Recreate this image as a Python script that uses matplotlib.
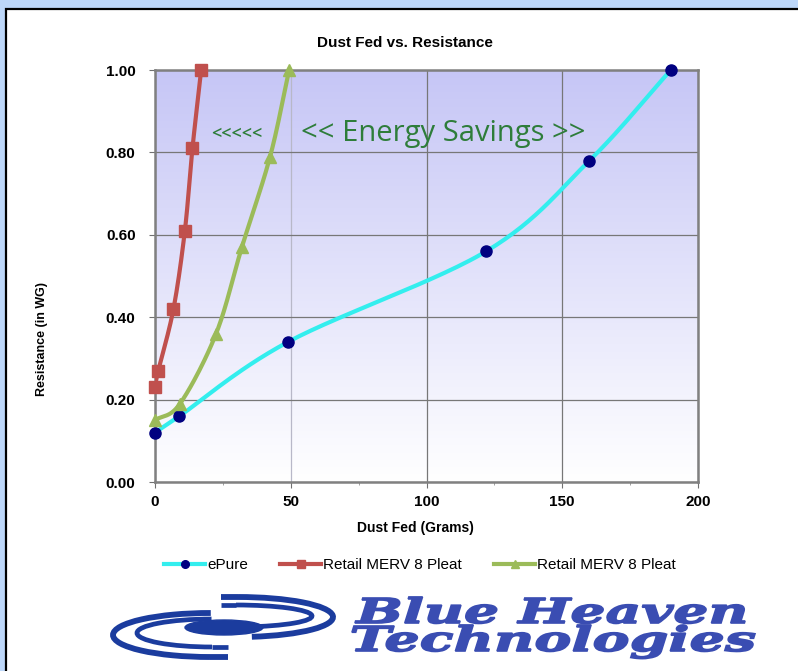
import numpy as np
import matplotlib
matplotlib.use("Agg")
import matplotlib.pyplot as plt
from matplotlib.patches import Rectangle, Ellipse, Arc, PathPatch
from matplotlib.textpath import TextPath
from matplotlib.font_manager import FontProperties
from matplotlib.transforms import Affine2D
from matplotlib.lines import Line2D

# ---------------- data ----------------
epure_x = [0, 9, 49, 122, 160, 190]
epure_y = [0.12, 0.16, 0.34, 0.56, 0.78, 1.00]
red_x = [0, 1.2, 6.8, 11, 13.8, 17]
red_y = [0.23, 0.27, 0.42, 0.61, 0.81, 1.00]
green_x = [0, 9.2, 22.5, 32, 42.4, 49.4]
green_y = [0.15, 0.19, 0.36, 0.57, 0.79, 1.00]
series_names = ["ePure", "Retail MERV 8 Pleat", "Retail MERV 8 Pleat"]
x_ticks = [0, 50, 100, 150, 200]
y_ticks = [0.0, 0.2, 0.4, 0.6, 0.8, 1.0]
title = "Dust Fed vs. Resistance"
xlabel = "Dust Fed (Grams)"
ylabel = "Resistance (in WG)"

W, H = 798, 671
fig = plt.figure(figsize=(W / 100, H / 100), dpi=100)
fig.patch.set_facecolor("#BDD7F9")

# background / frame layer in pixel coordinates (y down)
bg = fig.add_axes([0, 0, 1, 1], zorder=0)
bg.set_xlim(0, W)
bg.set_ylim(H, 0)
bg.axis("off")
bg.add_patch(Rectangle((6, 9), W + 20, H + 20, facecolor="white",
                       edgecolor="black", lw=1.6))

# ---------------- main axes ----------------
x0, x1, y0, y1 = 155, 698, 70, 482
ax = fig.add_axes([x0 / W, 1 - y1 / H, (x1 - x0) / W, (y1 - y0) / H], zorder=2)

# gradient background (lavender at top -> white at bottom)
grad = np.linspace(0, 1, 256).reshape(-1, 1)
top = np.array([198, 198, 246]) / 255.0
bot = np.array([255, 255, 255]) / 255.0
img = top[None, None, :] * (1 - grad[:, :, None]) + bot[None, None, :] * grad[:, :, None]
ax.imshow(img, extent=[0, 200, 0, 1], origin="upper", aspect="auto", zorder=0)
ax.set_xlim(0, 200)
ax.set_ylim(0, 1)

tick_font = dict(fontweight="bold", fontsize=11, family="Liberation Sans")
ax.set_xticks(x_ticks)
ax.set_yticks(y_ticks)
ax.set_xticks([25, 75, 125, 175], minor=True)
ax.set_xticklabels([str(t) for t in x_ticks], **tick_font)
ax.set_yticklabels(["%.2f" % t for t in y_ticks], **tick_font)
ax.tick_params(axis="both", which="major", direction="out", length=4,
               color="#707070", pad=6)
ax.tick_params(axis="x", which="major", pad=5)
ax.tick_params(axis="y", which="major", pad=10)
ax.tick_params(axis="x", which="minor", direction="out", length=2, color="#909090")
ax.grid(True, which="major", color="#777777", lw=0.9, zorder=1)
ax.get_xgridlines()[1].set_color("#B8B8C8")
for s in ax.spines.values():
    s.set_color("#808080")
    s.set_linewidth(1.8)


def smooth(xs, ys, n=30):
    # Catmull-Rom curve through the data points, in display-proportional space
    sx = (x1 - x0) / 200.0
    sy = (y1 - y0) / 1.0
    P = np.column_stack([np.asarray(xs) * sx, np.asarray(ys) * sy])
    P = np.vstack([P[0] - (P[1] - P[0]), P, P[-1] + (P[-1] - P[-2])])
    out = []
    for i in range(1, len(P) - 2):
        p0, p1, p2, p3 = P[i - 1], P[i], P[i + 1], P[i + 2]
        for t in np.linspace(0, 1, n, endpoint=False):
            t2, t3 = t * t, t * t * t
            pt = 0.5 * ((2 * p1) + (-p0 + p2) * t + (2 * p0 - 5 * p1 + 4 * p2 - p3) * t2
                        + (-p0 + 3 * p1 - 3 * p2 + p3) * t3)
            out.append(pt)
    out.append(P[-2])
    out = np.array(out)
    return out[:, 0] / sx, out[:, 1] / sy


cx, cy = smooth(epure_x, epure_y)
ax.plot(cx, cy, color="#33EEEE", lw=3, zorder=3, solid_capstyle="round")
ax.plot(epure_x, epure_y, "o", color="#000080", ms=8, zorder=5, clip_on=False)

rx, ry = smooth(red_x, red_y)
ax.plot(rx, ry, color="#C0504D", lw=3, zorder=3)
ax.plot(red_x, red_y, "s", color="#C0504D", ms=9, zorder=5, clip_on=False)

gx, gy = smooth(green_x, green_y)
ax.plot(gx, gy, color="#9BBB59", lw=3, zorder=3)
ax.plot(green_x, green_y, "^", color="#9BBB59", ms=9, zorder=5, clip_on=False)

# annotations
ax.text(30, 0.845, "<<<<<", color="#2E7D3A", fontsize=13, ha="center", va="center",
        family="Open Sans", fontweight="semibold", zorder=4)
ax.text(106, 0.845, "<< Energy Savings >>", color="#2E7D3A", fontsize=21,
        ha="center", va="center", family="Open Sans", zorder=4)

# titles / labels
fig.text(405 / W, 1 - 43 / H, title, ha="center", va="center", fontsize=11,
         fontweight="bold", family="Liberation Sans")
fig.text(415 / W, 1 - 528 / H, xlabel, ha="center", va="center", fontsize=10,
         fontweight="bold", family="Liberation Sans")
fig.text(42 / W, 1 - 339 / H, ylabel, ha="center", va="center", fontsize=9,
         fontweight="bold", family="Liberation Sans", rotation=90)

# legend
handles = [
    Line2D([], [], color="#33EEEE", lw=3, marker="o", mfc="#000080", mec="#000080", ms=5.5),
    Line2D([], [], color="#C0504D", lw=3, marker="s", mfc="#C0504D", mec="#C0504D", ms=5.5),
    Line2D([], [], color="#9BBB59", lw=3, marker="^", mfc="#9BBB59", mec="#9BBB59", ms=5.5),
]
leg = fig.legend(handles, series_names, loc="center", ncol=3,
                 bbox_to_anchor=(420 / W, 1 - 565 / H), frameon=False,
                 handlelength=2.7, handletextpad=0.12, columnspacing=2.1,
                 prop=FontProperties(family="Liberation Sans", size=11))

# ---------------- logo ----------------
lg = fig.add_axes([0, 0, 1, 1], zorder=3)
lg.set_xlim(0, W)
lg.set_ylim(0, H)
lg.axis("off")
blue = "#1B3C9E"


def P(y):
    return H - y


lg.add_patch(Ellipse((224, P(627.5)), 78, 15, color=blue))
# left swooshes (open to the right)
lg.add_patch(Arc((210, P(635)), 194, 44, theta1=88, theta2=270, color=blue, lw=4.2))
lg.plot([210, 228], [P(657), P(657)], color=blue, lw=4.2, solid_capstyle="butt")
lg.add_patch(Arc((212, P(633)), 150, 28, theta1=92, theta2=270, color=blue, lw=3.4))
lg.plot([212, 228], [P(647), P(647)], color=blue, lw=3.4, solid_capstyle="butt")
# right swooshes (open to the left)
lg.add_patch(Arc((238, P(617)), 190, 40, theta1=-55, theta2=90, color=blue, lw=4.2))
lg.plot([221, 238], [P(597), P(597)], color=blue, lw=4.2, solid_capstyle="butt")
lg.add_patch(Arc((236, P(616)), 152, 22, theta1=-50, theta2=90, color=blue, lw=3.4))
lg.plot([221, 236], [P(605), P(605)], color=blue, lw=3.4, solid_capstyle="butt")

tcol = "#3A4DB2"
fp = FontProperties(family="DejaVu Serif", weight="bold", style="italic")


def fit_text(s, left, right, ytop, ybot):
    tp = TextPath((0, 0), s, size=10, prop=fp)
    ext = tp.get_extents()
    cap = TextPath((0, 0), "B", size=10, prop=fp).get_extents()
    sxx = (right - left) / ext.width
    syy = (ybot - ytop) / cap.height
    tr = Affine2D().translate(-ext.x0, 0).scale(sxx, syy).translate(left, H - ybot)
    lg.add_patch(PathPatch(tr.transform_path(tp), facecolor=tcol, edgecolor=tcol, lw=1.2))


fit_text("Blue Heaven", 355, 745, 598, 623)
fit_text("Technologies", 352, 755, 626, 651)

fig.savefig("out.png", dpi=100)
